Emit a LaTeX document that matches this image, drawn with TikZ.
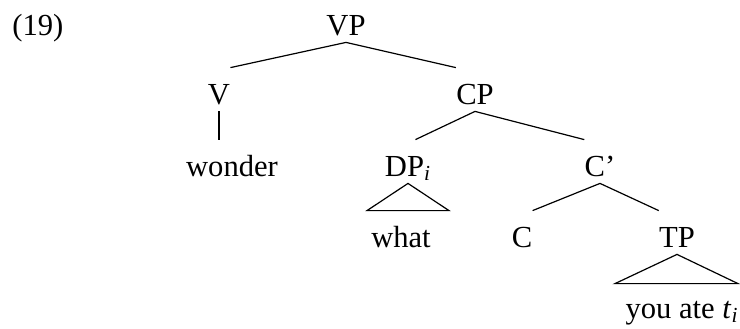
\documentclass[tikz,border=0pt]{standalone}
\usepackage{fontspec}
\setmainfont{Liberation Serif}
\usetikzlibrary{calc}

\tikzset{
  cat/.style={anchor=base,inner sep=0pt,text height=18pt,text depth=3.5pt},
  branch/.style={line width=0.6pt}
}

\begin{document}
\begin{tikzpicture}[x=0.5pt,y=-0.5pt,font=\fontsize{15.3}{18}\selectfont]
   \useasboundingbox (0,0) rectangle (740,328);

   \node[anchor=base west,inner sep=0pt] (ex) at (12,35) {(19)};

   \node[cat] (vp) at (346,35) {VP};
   \node[cat] (v) at (219,104) {V};
   \node[cat] (cp) at (475,104) {CP};
   \node[cat] (wonder) at (232,176) {wonder};
   \node[cat] (dp) at (408,176) {DP\textsubscript{\itshape i}};
   \node[cat] (cbar) at (600,176) {C’};
   \node[cat] (what) at (401,247) {what};
   \node[cat] (c) at (522,247) {C};
   \node[cat] (tp) at (677,247) {TP};
   \node[cat] (you) at (682,318) {you ate \textit{t}\textsubscript{\itshape i}};

   \draw[branch] (vp.south) -- (v.north east);
   \draw[branch] (vp.south) -- (cp.north west);
   \draw[branch] (v.south) -- (v.south |- wonder.north);
   \draw[branch] (cp.south) -- ([xshift=-8pt]dp.north east);
   \draw[branch] (cp.south) -- (cbar.north west);
   \draw[branch] (cbar.south) -- (c.north east);
   \draw[branch] (cbar.south) -- (tp.north west);

   \draw[branch] (dp.south) -- ($(dp.south |- what.north)+(-41,0)$) -- ($(dp.south |- what.north)+(41,0)$) -- cycle;
   \draw[branch] (tp.south) -- ($(tp.south |- you.north)+(-62,2)$) -- ($(tp.south |- you.north)+(61,2)$) -- cycle;
\end{tikzpicture}
\end{document}
